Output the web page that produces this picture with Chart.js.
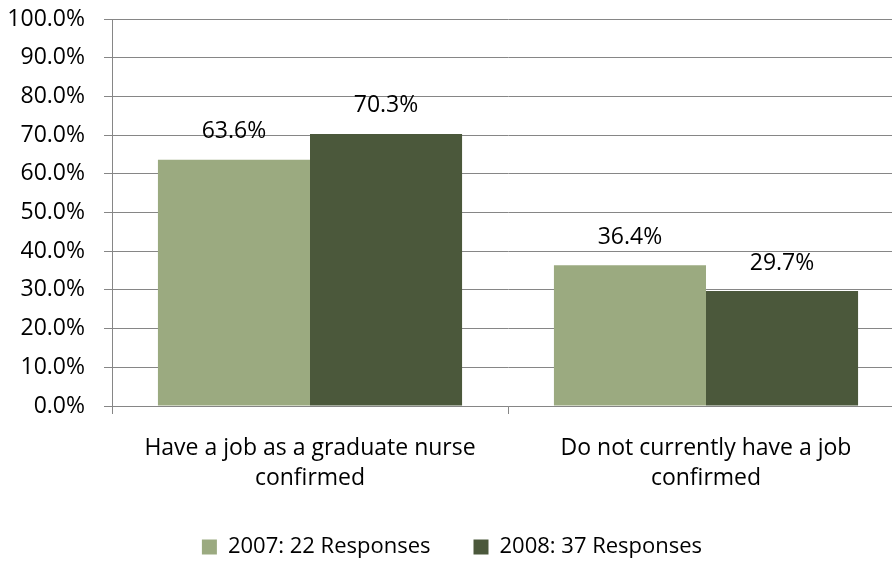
<!DOCTYPE html>
<html>
<head>
<meta charset="utf-8">
<script src="https://cdn.jsdelivr.net/npm/chart.js@4/dist/chart.umd.min.js"></script>
<style>
  html, body { margin: 0; padding: 0; background: #fff; overflow: hidden; }
  #wrap { width: 892px; height: 565px; overflow: hidden; position: relative; }
  #box { width: 904px; height: 568px; position: absolute; left: 0; top: 0; }
</style>
</head>
<body>
<div id="wrap"><div id="box"><canvas id="myChart"></canvas></div></div>
<script>
const categories = [['Have a job as a graduate nurse', 'confirmed'], ['Do not currently have a job', 'confirmed']];
const seriesNames = ['2007: 22 Responses', '2008: 37 Responses'];
const values2007 = [63.6, 36.4];
const values2008 = [70.3, 29.7];
const seriesColors = ['#9BAA80', '#4B583B'];

const gridGrey = '#868686';
const font = { family: '"Open Sans", sans-serif', size: 23 };

// value labels above each bar
const barLabels = {
    id: 'barLabels',
    afterDatasetsDraw(chart) {
        const c = chart.ctx;
        c.save();
        c.font = '23px "Open Sans", sans-serif';
        c.fillStyle = '#000';
        c.textAlign = 'center';
        c.textBaseline = 'middle';
        chart.data.datasets.forEach((ds, i) => {
            chart.getDatasetMeta(i).data.forEach((bar, j) => {
                c.fillText(ds.data[j].toFixed(1) + '%', bar.x, bar.y - 28);
            });
        });
        c.restore();
    }
};

let ctx = document.getElementById('myChart');
new Chart(ctx, {
    type: 'bar',
    data: {
        labels: categories,
        datasets: [
            { label: seriesNames[0], data: values2007, backgroundColor: seriesColors[0] },
            { label: seriesNames[1], data: values2008, backgroundColor: seriesColors[1] }
        ]
    },
    options: {
        responsive: true,
        maintainAspectRatio: false,
        animation: false,
        devicePixelRatio: 1,
        categoryPercentage: 0.768,
        barPercentage: 1,
        layout: { padding: { top: 19, left: 0, right: 0, bottom: 0 } },
        plugins: {
            legend: {
                position: 'bottom',
                labels: {
                    font: { family: '"Open Sans", sans-serif', size: 22 },
                    color: '#000',
                    boxWidth: 15,
                    boxHeight: 15,
                    padding: 43
                }
            },
            tooltip: { enabled: false }
        },
        scales: {
            x: {
                grid: { offset: true, drawOnChartArea: false, drawTicks: true, tickLength: 8, color: gridGrey },
                border: { color: gridGrey, width: 1 },
                ticks: { font: Object.assign({}, font, { lineHeight: 30 / 23 }), color: '#000', padding: 19, maxRotation: 0 },
                afterFit(scale) { scale.height = 87; }
            },
            y: {
                min: 0,
                max: 100,
                grid: { color: gridGrey, tickLength: 8 },
                border: { color: gridGrey, width: 1 },
                ticks: {
                    stepSize: 10,
                    font: font,
                    color: '#000',
                    padding: 19,
                    callback: v => v.toFixed(1) + '%'
                },
                afterFit(scale) {
                    scale.width = 112;
                    scale.paddingTop = 0;
                    scale.paddingBottom = 0;
                }
            }
        }
    },
    plugins: [barLabels]
});
</script>
</body>
</html>
